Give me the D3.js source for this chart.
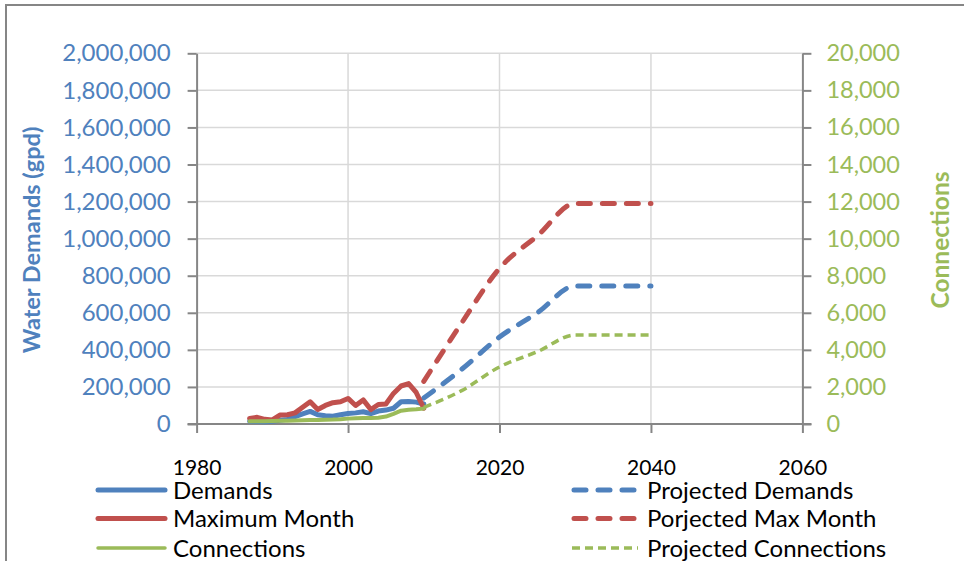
<!DOCTYPE html>
<html><head><meta charset="utf-8">
<script src="https://cdn.jsdelivr.net/npm/d3@7"></script>
<style>
html,body{margin:0;padding:0;background:#fff;}
svg{display:block;font-family:Lato,"Open Sans",sans-serif;}
</style></head>
<body><svg id="c" width="964" height="561"></svg>
<script>
// ---- data ----
const histYears = [1987,1988,1989,1990,1991,1992,1993,1994,1995,1996,1997,1998,1999,2000,2001,2002,2003,2004,2005,2006,2007,2008,2009,2010];
const demands   = [15000,14000,12000,15000,20000,25000,40000,55000,68000,50000,45000,42000,50000,57000,60000,66000,56000,70000,75000,85000,120000,122000,118000,108000];
const maxMonth  = [30000,36000,25000,22000,48000,50000,60000,90000,120000,78000,100000,115000,120000,138000,100000,130000,78000,105000,108000,165000,205000,218000,170000,85000];
const connections = [150,150,150,160,170,180,190,200,210,220,230,240,260,290,310,320,330,340,400,550,720,770,790,830];
const projYears = [2010,2015,2020,2025,2030,2035,2040];
const projDemands = [140000,295000,469000,600000,745000,745000,745000];
const projMaxMonth = [230000,545000,840000,1015000,1190000,1190000,1190000];
const projConnections = [900,1800,3080,3900,4800,4800,4800];
const xTicks = [1980,2000,2020,2040,2060];
const leftTicks = [0,200000,400000,600000,800000,1000000,1200000,1400000,1600000,1800000,2000000];
const rightTicks = [0,2000,4000,6000,8000,10000,12000,14000,16000,18000,20000];
const legendLeft = ["Demands","Maximum Month","Connections"];
const legendRight = ["Projected Demands","Porjected Max Month","Projected Connections"];

const BLUE="#4f81bd", RED="#c0504d", GREEN="#9bbb59", AX="#868686", GRID="#d9d9d9";

const svg = d3.select("#c");
// outer frame
svg.append("rect").attr("x",6).attr("y",5).attr("width",1000).attr("height",600)
  .attr("fill","none").attr("stroke",AX).attr("stroke-width",2);

const x = d3.scaleLinear().domain([1980,2060]).range([196.6,802.4]);
const yL = d3.scaleLinear().domain([0,2000000]).range([424,53.3]);
const yR = d3.scaleLinear().domain([0,20000]).range([424,53.3]);

// gridlines
svg.append("g").selectAll("line").data(leftTicks.slice(1)).join("line")
  .attr("x1",x(1980)).attr("x2",x(2060)).attr("y1",d=>yL(d)).attr("y2",d=>yL(d))
  .attr("stroke",GRID).attr("stroke-width",1.5);
svg.append("g").selectAll("line").data(xTicks.slice(1,-1)).join("line")
  .attr("x1",d=>x(d)).attr("x2",d=>x(d)).attr("y1",yL(0)).attr("y2",yL(2000000))
  .attr("stroke",GRID).attr("stroke-width",1.5);

const fmt = d3.format(",");
// left axis
const gL = svg.append("g").attr("transform",`translate(${x(1980)},0)`)
  .call(d3.axisLeft(yL).tickValues(leftTicks).tickFormat(fmt).tickSize(9).tickSizeOuter(0).tickPadding(17));
gL.selectAll("text").attr("fill",BLUE).style("font-size","24px").style("font-family","Lato");
// right axis
const gR = svg.append("g").attr("transform",`translate(${x(2060)},0)`)
  .call(d3.axisRight(yR).tickValues(rightTicks).tickFormat(fmt).tickSize(9).tickSizeOuter(0).tickPadding(15));
gR.selectAll("text").attr("fill",GREEN).style("font-size","23.5px").style("font-family","Lato");
// bottom axis
const gB = svg.append("g").attr("transform",`translate(0,${yL(0)})`)
  .call(d3.axisBottom(x).tickValues(xTicks).tickFormat(d3.format("d")).tickSize(9).tickSizeOuter(0).tickPadding(27));
gB.selectAll("text").attr("fill","#000").style("font-size","21px").style("font-family","Lato");
gB.select(".domain").attr("d",`M${x(1980)-9},0H${x(2060)+9}`);
[gL,gR,gB].forEach(g=>{
  g.selectAll(".tick line").attr("stroke",AX).attr("stroke-width",2);
  g.select(".domain").attr("stroke",AX).attr("stroke-width",2);
});

// lines
const lineL = (yrs)=> d3.line().x((d,i)=>x(yrs[i])).y(d=>yL(d));
const lineR = (yrs)=> d3.line().x((d,i)=>x(yrs[i])).y(d=>yR(d));
const plot = svg.append("g").attr("fill","none").attr("stroke-linejoin","round");

plot.append("path").attr("d",lineL(histYears)(demands))
  .attr("stroke",BLUE).attr("stroke-width",5).attr("stroke-linecap","round");
plot.append("path").attr("d",lineL(projYears).curve(d3.curveMonotoneX)(projDemands))
  .attr("stroke",BLUE).attr("stroke-width",5).attr("stroke-linecap","round").attr("stroke-dasharray","12 12");
plot.append("path").attr("d",lineL(histYears)(maxMonth))
  .attr("stroke",RED).attr("stroke-width",5).attr("stroke-linecap","round");
plot.append("path").attr("d",lineL(projYears).curve(d3.curveMonotoneX)(projMaxMonth))
  .attr("stroke",RED).attr("stroke-width",5).attr("stroke-linecap","round").attr("stroke-dasharray","12 12");
plot.append("path").attr("d",lineR(histYears)(connections))
  .attr("stroke",GREEN).attr("stroke-width",4).attr("stroke-linecap","round");
plot.append("path").attr("d",lineR(projYears).curve(d3.curveMonotoneX)(projConnections))
  .attr("stroke",GREEN).attr("stroke-width",3.5).attr("stroke-dasharray","8 5");

// axis titles
svg.append("text").attr("transform","translate(31,240) rotate(-90)").attr("text-anchor","middle")
  .attr("dominant-baseline","central").attr("fill",BLUE).style("font-weight","bold")
  .style("font-size","23.5px").text("Water Demands (gpd)");
svg.append("text").attr("transform","translate(939,240) rotate(-90)").attr("text-anchor","middle")
  .attr("dominant-baseline","central").attr("fill",GREEN).style("font-weight","bold")
  .style("font-size","24.5px").text("Connections");

// legend
const legRows = [490,518.5,548];
const colors = [BLUE,RED,GREEN];
const widths = [5,5,3.5];
const lg = svg.append("g");
legendLeft.forEach((t,i)=>{
  lg.append("line").attr("x1",98).attr("x2",165).attr("y1",legRows[i]).attr("y2",legRows[i])
    .attr("stroke",colors[i]).attr("stroke-width",widths[i]).attr("stroke-linecap","round");
  lg.append("text").attr("x",173).attr("y",legRows[i]).attr("dy","0.36em").style("font-size","24px").attr("fill","#000").text(t);
});
legendRight.forEach((t,i)=>{
  const l = lg.append("line").attr("x1",572).attr("x2",638).attr("y1",legRows[i]).attr("y2",legRows[i])
    .attr("stroke",colors[i]).attr("stroke-width",widths[i]);
  if(i<2) l.attr("stroke-dasharray","12 12").attr("stroke-linecap","round").attr("x1",574).attr("x2",638);
  else l.attr("stroke-dasharray","8 5");
  lg.append("text").attr("x",647).attr("y",legRows[i]).attr("dy","0.36em").style("font-size","24px").attr("fill","#000").text(t);
});
</script></body></html>
